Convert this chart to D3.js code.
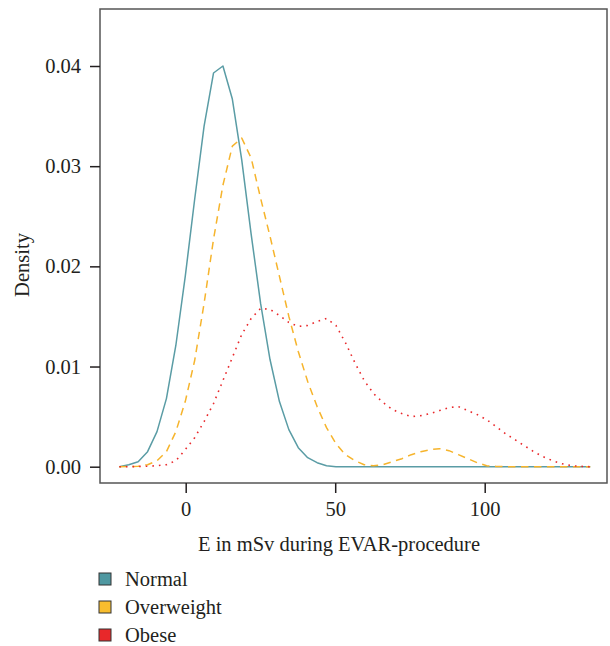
<!DOCTYPE html>
<html>
<head>
<meta charset="utf-8">
<script src="https://cdn.jsdelivr.net/npm/d3@7"></script>
<style>
  html, body { margin: 0; padding: 0; background: #fff; }
  svg { display: block; }
  text { font-family: "Liberation Serif", "DejaVu Serif", serif; fill: #231f20; }
</style>
</head>
<body>
<svg id="chart" width="610" height="646"></svg>
<script>
// ---- data ----
const categories = ["Normal", "Overweight", "Obese"];
const colors = ["#5a9ca5", "#f6b42c", "#e9282b"];
const legendColors = ["#4f98a1", "#f8bd2e", "#e8282a"];

const xGrid = [-22.2, -19.05, -15.9, -12.75, -9.6, -6.45, -3.3, -0.15, 3.0, 6.15,
  9.3, 12.45, 15.6, 18.75, 21.9, 25.05, 28.2, 31.35, 34.5, 37.65,
  40.8, 43.95, 47.1, 50.25, 53.4, 56.55, 59.7, 62.85, 66.0, 69.15,
  72.3, 75.45, 78.6, 81.75, 84.9, 88.05, 91.2, 94.35, 97.5, 100.65,
  103.8, 106.95, 110.1, 113.25, 116.4, 119.55, 122.7, 125.85, 129.0, 132.15, 135.3];

const normalY = [0.0000, 0.0002, 0.0005, 0.0015, 0.0035, 0.0068, 0.0121, 0.0190, 0.0267, 0.0340,
  0.0393, 0.0400, 0.0367, 0.0306, 0.0232, 0.0163, 0.0107, 0.0065, 0.0037, 0.0019,
  0.0009, 0.0004, 0.0001, 0.0000, 0.0000, 0.0000, 0.0000, 0.0000, 0.0000, 0.0000,
  0.0000, 0.0000, 0.0000, 0.0000, 0.0000, 0.0000, 0.0000, 0.0000, 0.0000, 0.0000,
  0.0000, 0.0000, 0.0000, 0.0000, 0.0000, 0.0000, 0.0000, 0.0000, 0.0000, 0.0000, 0.0000];

const overweightY = [0.0000, 0.00002, 0.00005, 0.0002, 0.0006, 0.0015, 0.0035, 0.0065, 0.0106, 0.0163,
  0.0227, 0.0281, 0.0320, 0.0328, 0.0308, 0.0268, 0.0230, 0.0190, 0.0150, 0.0115,
  0.0085, 0.0060, 0.0039, 0.0023, 0.0012, 0.0006, 0.0002, 0.0001, 0.0002, 0.0005,
  0.0008, 0.0012, 0.0015, 0.0017, 0.0018, 0.0016, 0.0012, 0.0008, 0.0004, 0.0001,
  0.00003, 0.0000, 0.0000, 0.0000, 0.0000, 0.0000, 0.0000, 0.0000, 0.0000, 0.0000, 0.0000];

const obeseY = [0.0000, 0.0000, 0.00002, 0.00005, 0.0001, 0.0002, 0.0006, 0.0017, 0.0029, 0.0045,
  0.0063, 0.0086, 0.0109, 0.0132, 0.0148, 0.0158, 0.0157, 0.0151, 0.0144, 0.0140,
  0.0141, 0.0145, 0.0148, 0.0141, 0.0124, 0.0104, 0.0086, 0.0073, 0.0064, 0.0057,
  0.0053, 0.0050, 0.0051, 0.0053, 0.0056, 0.0059, 0.0060, 0.0056, 0.0052, 0.0047,
  0.0040, 0.0033, 0.0027, 0.0021, 0.0015, 0.0010, 0.0006, 0.0003, 0.0001, 0.00003, 0.0000];

const seriesValues = [normalY, overweightY, obeseY];
const xTicks = [0, 50, 100];
const yTicks = [0.00, 0.01, 0.02, 0.03, 0.04];
const xLabel = "E in mSv during EVAR-procedure";
const yLabel = "Density";

// ---- layout ----
const FS = 20.5;
const svg = d3.select("#chart");
const box = { left: 100, right: 607, top: 9, bottom: 483 };

const x = d3.scaleLinear().domain([0, 100]).range([185.7, 484.7]);
const y = d3.scaleLinear().domain([0, 0.04]).range([466.7, 66.0]);

// curves
const dashes = [null, "7.5,5.5", "1.6,5"];
const widths = [1.5, 1.5, 1.6];
const line = d3.line().x(d => x(d[0])).y(d => y(d[1])).curve(d3.curveLinear);

seriesValues.forEach((vals, i) => {
  const pts = xGrid.map((xv, k) => [xv, vals[k]]);
  svg.append("path")
    .attr("d", line(pts))
    .attr("fill", "none")
    .attr("stroke", colors[i])
    .attr("stroke-width", widths[i])
    .attr("stroke-dasharray", dashes[i])
    .attr("stroke-linejoin", "round");
});

// box
svg.append("rect")
  .attr("x", box.left).attr("y", box.top)
  .attr("width", box.right - box.left).attr("height", box.bottom - box.top)
  .attr("fill", "none").attr("stroke", "#555").attr("stroke-width", 1.5);

// y axis
const yAxis = d3.axisLeft(y).tickValues(yTicks).tickFormat(d3.format(".2f")).tickSize(10).tickPadding(9);
const gy = svg.append("g").attr("transform", `translate(${box.left},0)`).call(yAxis);
gy.select(".domain").remove();
gy.selectAll(".tick line").attr("stroke", "#231f20").attr("stroke-width", 1.5);
gy.selectAll(".tick text").attr("font-size", FS).attr("fill", "#231f20")
  .style("font-family", '"Liberation Serif", "DejaVu Serif", serif');

// x axis
const xAxis = d3.axisBottom(x).tickValues(xTicks).tickFormat(d3.format("d")).tickSize(10).tickPadding(8);
const gx = svg.append("g").attr("transform", `translate(0,${box.bottom})`).call(xAxis);
gx.select(".domain").remove();
gx.selectAll(".tick line").attr("stroke", "#231f20").attr("stroke-width", 1.5);
gx.selectAll(".tick text").attr("font-size", FS).attr("fill", "#231f20")
  .style("font-family", '"Liberation Serif", "DejaVu Serif", serif');

// axis labels
svg.append("text")
  .attr("x", 339).attr("y", 551)
  .attr("text-anchor", "middle").attr("font-size", FS)
  .text(xLabel);

svg.append("text")
  .attr("transform", "translate(29,265) rotate(-90)")
  .attr("text-anchor", "middle").attr("font-size", FS)
  .text(yLabel);

// legend
const legendY = [579, 607, 635];
categories.forEach((c, i) => {
  const g = svg.append("g");
  g.append("rect")
    .attr("x", 99).attr("y", legendY[i] - 6)
    .attr("width", 12).attr("height", 12)
    .attr("fill", legendColors[i]).attr("stroke", "#333").attr("stroke-width", 1);
  g.append("text")
    .attr("x", 125).attr("y", legendY[i] + 6.5)
    .attr("font-size", FS)
    .text(c);
});
</script>
</body>
</html>
